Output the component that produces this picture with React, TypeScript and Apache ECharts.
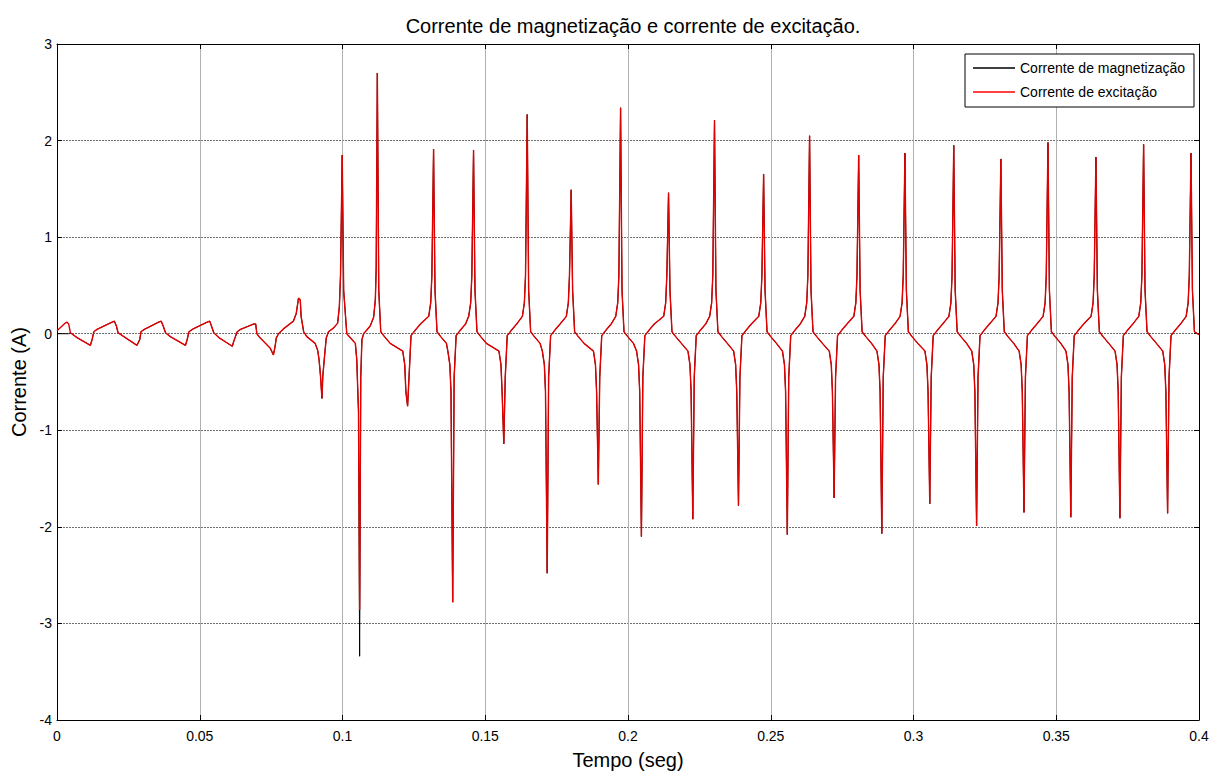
import React, { useEffect, useRef } from "react";
import * as echarts from "echarts";

// Time in milliseconds, current in amperes
const excitationStartup: [number, number][] = [
  [0, 0.03], [2.9, 0.11], [3.5, 0.12], [4.1, 0.1], [4.7, 0.01], [7.0, -0.04], [11.7, -0.12], [12.3, -0.06],
  [12.9, 0.02], [14.0, 0.045], [19.3, 0.12], [20.1, 0.13], [20.8, 0.08], [21.4, 0.01], [23.4, -0.03], [28.0, -0.12],
  [29.0, -0.06], [29.4, 0.02], [30.6, 0.045], [35.6, 0.12], [36.5, 0.13], [37.2, 0.08], [38.0, 0.01], [39.7, -0.03],
  [45.0, -0.12], [45.6, -0.06], [46.2, 0.02], [47.7, 0.05], [52.6, 0.12], [53.5, 0.13], [54.1, 0.08], [54.9, 0.01],
  [56.7, -0.04], [61.4, -0.13], [61.9, -0.08], [63.1, 0.02], [64.3, 0.045], [68.8, 0.1], [69.6, 0.1], [70.0, 0.0],
  [71.2, -0.045], [74.7, -0.15], [75.8, -0.22], [76.4, -0.13], [76.8, -0.045], [77.6, 0.0], [79.3, 0.05], [82.8, 0.13],
  [83.8, 0.21], [84.6, 0.37], [85.2, 0.35], [85.5, 0.18], [86.4, 0.02], [87.5, -0.03], [90.4, -0.1], [91.3, -0.17],
  [91.8, -0.27], [92.3, -0.44], [92.8, -0.67], [93.1, -0.44], [93.6, -0.27], [94.3, -0.045], [95.1, 0.02], [96.9, 0.06],
  [98.3, 0.11], [98.9, 0.28], [99.3, 0.6], [99.9, 1.85], [100.4, 0.45], [101.5, 0.0], [103.3, -0.06], [104.5, -0.1],
  [105.0, -0.27], [105.3, -0.54], [105.6, -0.8], [106.0, -2.86], [106.4, -0.45], [106.8, -0.06], [107.4, 0.0], [109.7, 0.08],
  [110.9, 0.17], [111.5, 0.35], [111.8, 0.68], [112.2, 2.7], [112.7, 0.45], [113.4, 0.02], [114.7, -0.03], [116.7, -0.1],
];

const excitation120to200: [number, number][] = [
  [121.1, -0.18], [121.8, -0.32], [122.2, -0.6], [122.8, -0.75], [123.3, -0.45], [124.0, -0.02], [125.3, 0.03], [127.3, 0.1],
  [130.2, 0.18], [130.9, 0.32], [131.3, 0.6], [131.9, 1.91], [132.4, 0.45], [133.1, 0.02], [134.4, -0.03], [136.4, -0.1],
  [136.9, -0.18], [137.6, -0.32], [138.0, -0.6], [138.6, -2.78], [139.1, -0.45], [139.8, -0.02], [141.1, 0.03], [143.1, 0.1],
  [144.2, 0.18], [144.9, 0.32], [145.3, 0.6], [145.9, 1.9], [146.4, 0.45], [147.1, 0.02], [148.4, -0.03], [150.4, -0.1],
  [154.8, -0.18], [155.5, -0.32], [155.9, -0.6], [156.5, -1.14], [157.0, -0.45], [157.7, -0.02], [159.0, 0.03], [161.0, 0.1],
  [163.0, 0.18], [163.7, 0.32], [164.1, 0.6], [164.7, 2.27], [165.2, 0.45], [165.9, 0.02], [167.2, -0.03], [169.2, -0.1],
  [170.0, -0.18], [170.7, -0.32], [171.1, -0.6], [171.7, -2.48], [172.2, -0.45], [172.9, -0.02], [174.2, 0.03], [176.2, 0.1],
  [178.4, 0.18], [179.1, 0.32], [179.5, 0.6], [180.1, 1.49], [180.6, 0.45], [181.3, 0.02], [182.6, -0.03], [184.6, -0.1],
  [187.9, -0.18], [188.6, -0.32], [189.0, -0.6], [189.6, -1.56], [190.1, -0.45], [190.8, -0.02], [192.1, 0.03], [194.1, 0.1],
  [195.7, 0.18], [196.4, 0.32], [196.8, 0.6], [197.4, 2.34], [197.9, 0.45], [198.6, 0.02], [199.9, -0.03],
];

const excitation200to300: [number, number][] = [
  [201.9, -0.1],
  [203.0, -0.18], [203.7, -0.32], [204.1, -0.6], [204.7, -2.1], [205.2, -0.45], [205.9, -0.02], [207.2, 0.03], [209.2, 0.1],
  [212.5, 0.18], [213.2, 0.32], [213.6, 0.6], [214.2, 1.46], [214.7, 0.45], [215.4, 0.02], [216.7, -0.03], [218.7, -0.1],
  [221.0, -0.18], [221.7, -0.32], [222.1, -0.6], [222.7, -1.92], [223.2, -0.45], [223.9, -0.02], [225.2, 0.03], [227.2, 0.1],
  [228.6, 0.18], [229.3, 0.32], [229.7, 0.6], [230.3, 2.21], [230.8, 0.45], [231.5, 0.02], [232.8, -0.03], [234.8, -0.1],
  [237.0, -0.18], [237.7, -0.32], [238.1, -0.6], [238.7, -1.78], [239.2, -0.45], [239.9, -0.02], [241.2, 0.03], [243.2, 0.1],
  [245.8, 0.18], [246.5, 0.32], [246.9, 0.6], [247.5, 1.65], [248.0, 0.45], [248.7, 0.02], [250.0, -0.03], [252.0, -0.1],
  [254.1, -0.18], [254.8, -0.32], [255.2, -0.6], [255.8, -2.08], [256.3, -0.45], [257.0, -0.02], [258.3, 0.03], [260.3, 0.1],
  [261.9, 0.18], [262.6, 0.32], [263.0, 0.6], [263.6, 2.05], [264.1, 0.45], [264.8, 0.02], [266.1, -0.03], [268.1, -0.1],
  [270.5, -0.18], [271.2, -0.32], [271.6, -0.6], [272.2, -1.7], [272.7, -0.45], [273.4, -0.02], [274.7, 0.03], [276.7, 0.1],
  [279.1, 0.18], [279.8, 0.32], [280.2, 0.6], [280.8, 1.85], [281.3, 0.45], [282.0, 0.02], [283.3, -0.03], [285.3, -0.1],
  [287.2, -0.18], [287.9, -0.32], [288.3, -0.6], [288.9, -2.07], [289.4, -0.45], [290.1, -0.02], [291.4, 0.03], [293.4, 0.1],
  [295.3, 0.18], [296.0, 0.32], [296.4, 0.6], [297.0, 1.87], [297.5, 0.45], [298.2, 0.02], [299.5, -0.03],
];

const excitation300to400: [number, number][] = [
  [301.5, -0.1],
  [304.0, -0.18], [304.7, -0.32], [305.1, -0.6], [305.7, -1.76], [306.2, -0.45], [306.9, -0.02], [308.2, 0.03], [310.2, 0.1],
  [312.4, 0.18], [313.1, 0.32], [313.5, 0.6], [314.1, 1.95], [314.6, 0.45], [315.3, 0.02], [316.6, -0.03], [318.6, -0.1],
  [320.4, -0.18], [321.1, -0.32], [321.5, -0.6], [322.1, -1.99], [322.6, -0.45], [323.3, -0.02], [324.6, 0.03], [326.6, 0.1],
  [328.9, 0.18], [329.6, 0.32], [330.0, 0.6], [330.6, 1.81], [331.1, 0.45], [331.8, 0.02], [333.1, -0.03], [335.1, -0.1],
  [337.0, -0.18], [337.7, -0.32], [338.1, -0.6], [338.7, -1.85], [339.2, -0.45], [339.9, -0.02], [341.2, 0.03], [343.2, 0.1],
  [345.4, 0.18], [346.1, 0.32], [346.5, 0.6], [347.1, 1.98], [347.6, 0.45], [348.3, 0.02], [349.6, -0.03], [351.6, -0.1],
  [353.4, -0.18], [354.1, -0.32], [354.5, -0.6], [355.1, -1.9], [355.6, -0.45], [356.3, -0.02], [357.6, 0.03], [359.6, 0.1],
  [362.2, 0.18], [362.9, 0.32], [363.3, 0.6], [363.9, 1.83], [364.4, 0.45], [365.1, 0.02], [366.4, -0.03], [368.4, -0.1],
  [370.6, -0.18], [371.3, -0.32], [371.7, -0.6], [372.3, -1.91], [372.8, -0.45], [373.5, -0.02], [374.8, 0.03], [376.8, 0.1],
  [378.9, 0.18], [379.6, 0.32], [380.0, 0.6], [380.6, 1.96], [381.1, 0.45], [381.8, 0.02], [383.1, -0.03], [385.1, -0.1],
  [387.3, -0.18], [388.0, -0.32], [388.4, -0.6], [389.0, -1.86], [389.5, -0.45], [390.2, -0.02], [391.5, 0.03], [393.5, 0.1],
  [395.5, 0.18], [396.2, 0.32], [396.6, 0.6], [397.2, 1.87], [397.7, 0.45], [398.4, 0.02], [400.0, -0.01],
];

// Magnetization current: same trace except where it differs visibly
const magnetizationStart: [number, number][] = [[0, 0], [4.1, 0]];
const magnetizationDeepPeak: [number, number] = [106.0, -3.34];

const xTicks = [0, 0.05, 0.1, 0.15, 0.2, 0.25, 0.3, 0.35, 0.4];

const FONT = "'Liberation Sans', Arial, Helvetica, sans-serif";

export default function App() {
  const ref = useRef<HTMLDivElement>(null);
  useEffect(() => {
    if (!ref.current) return;
    const chart = echarts.init(ref.current, undefined, { renderer: "svg" });

    const excitation = [
      ...excitationStartup,
      ...excitation120to200,
      ...excitation200to300,
      ...excitation300to400,
    ];
    const toSec = (p: [number, number]) => [p[0] / 1000, p[1]];
    const excitationData = excitation.map(toSec);
    const magnetization = [
      ...magnetizationStart,
      ...excitation
        .filter((p) => p[0] > magnetizationStart[magnetizationStart.length - 1][0])
        .map((p) => (p[0] === magnetizationDeepPeak[0] ? magnetizationDeepPeak : p)),
    ];
    const magnetizationData = magnetization.map(toSec);

    const axisLine = { show: true, onZero: false, lineStyle: { color: "#000", width: 1 } };
    const axisTick = { show: true, inside: true, length: 5, lineStyle: { color: "#000" } };

    chart.setOption({
      animation: false,
      backgroundColor: "#fff",
      title: {
        text: "Corrente de magnetização e corrente de excitação.",
        left: 628,
        top: 11,
        textAlign: "center",
        textStyle: { fontFamily: FONT, fontSize: 20, fontWeight: "normal", color: "#000" },
      },
      legend: {
        left: 965,
        top: 54,
        orient: "vertical",
        backgroundColor: "#fff",
        borderColor: "#000",
        borderWidth: 1,
        borderRadius: 0,
        padding: [6, 9, 7, 8],
        itemGap: 8,
        itemWidth: 42,
        itemHeight: 1.5,
        icon: "rect",
        textStyle: { fontFamily: FONT, fontSize: 14, color: "#000", lineHeight: 16 },
        data: ["Corrente de magnetização", "Corrente de excitação"],
      },
      grid: { left: 57, right: 16, top: 44, bottom: 56, containLabel: false },
      xAxis: [
        {
          type: "value",
          min: 0,
          max: 0.4,
          interval: 0.05,
          name: "Tempo (seg)",
          nameLocation: "middle",
          nameGap: 30,
          nameTextStyle: { fontFamily: FONT, fontSize: 20, color: "#000" },
          axisLine,
          axisTick,
          axisLabel: {
            fontFamily: FONT,
            fontSize: 14,
            color: "#000",
            margin: 9,
            formatter: (v: number) => {
              const t = xTicks.find((x) => Math.abs(x - v) < 1e-9);
              return t === undefined ? "" : String(t);
            },
          },
          splitLine: { show: true, lineStyle: { color: "#b0b0b0", width: 1, type: "solid" } },
        },
        {
          type: "value",
          position: "top",
          min: 0,
          max: 0.4,
          interval: 0.05,
          axisLine,
          axisTick,
          axisLabel: { show: false },
          splitLine: { show: false },
        },
      ],
      yAxis: [
        {
          type: "value",
          min: -4,
          max: 3,
          interval: 1,
          name: "Corrente (A)",
          nameLocation: "middle",
          nameGap: 22,
          nameTextStyle: { fontFamily: FONT, fontSize: 20, color: "#000" },
          axisLine,
          axisTick,
          axisLabel: { fontFamily: FONT, fontSize: 14, color: "#000", margin: 5 },
          splitLine: { show: true, lineStyle: { color: "#6e6e6e", width: 1, type: [2, 1] } },
        },
        {
          type: "value",
          position: "right",
          min: -4,
          max: 3,
          interval: 1,
          axisLine,
          axisTick,
          axisLabel: { show: false },
          splitLine: { show: false },
        },
      ],
      series: [
        {
          name: "Corrente de magnetização",
          type: "line",
          xAxisIndex: 0,
          yAxisIndex: 0,
          data: magnetizationData,
          showSymbol: false,
          symbol: "none",
          color: "#000",
          lineStyle: { color: "#000", width: 1 },
          z: 2,
        },
        {
          name: "Corrente de excitação",
          type: "line",
          xAxisIndex: 0,
          yAxisIndex: 0,
          data: excitationData,
          showSymbol: false,
          symbol: "none",
          color: "#ff0000",
          lineStyle: { color: "#e00000", width: 1.4 },
          z: 3,
        },
      ],
    });
    return () => chart.dispose();
  }, []);

  return (
    <div
      ref={ref}
      style={{ position: "fixed", left: 0, top: 0, width: 1215, height: 776, background: "#fff" }}
    />
  );
}
